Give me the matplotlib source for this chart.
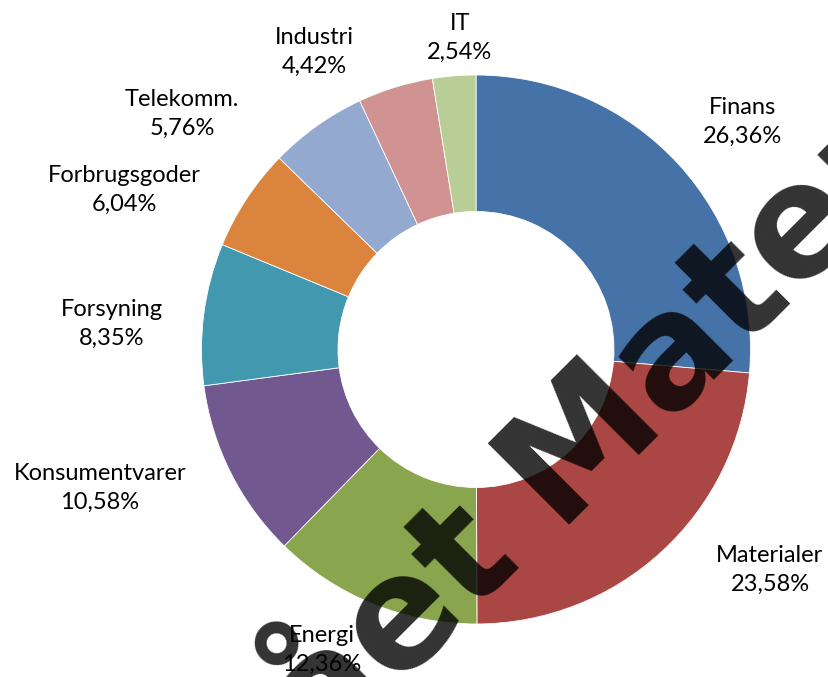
import matplotlib.pyplot as plt

# =========================
# data
# =========================
sectors = ["Finans", "Materialer", "Energi", "Konsumentvarer", "Forsyning",
           "Forbrugsgoder", "Telekomm.", "Industri", "IT"]
shares = [26.36, 23.58, 12.36, 10.58, 8.35, 6.04, 5.76, 4.42, 2.54]
colors = ["#4572A7", "#AA4643", "#89A54E", "#71588F", "#4198AF",
          "#DB843D", "#93A9CF", "#D19392", "#B9CD96"]

# label anchor points in pixels (x, y from top)
label_pos = [(743, 122), (770, 570), (322, 650), (100, 488), (112, 324),
             (124, 190), (182, 114), (314, 52), (460, 38)]

W, H = 829, 677
CX, CY = 476, 349.5
R_OUT, R_IN = 274.5, 138

plt.rcParams["font.family"] = ["Lato", "DejaVu Sans"]

fig = plt.figure(figsize=(W / 100, H / 100), dpi=100)
ax = fig.add_axes([0, 0, 1, 1])

ax.pie(shares, colors=colors, startangle=90, counterclock=False,
       radius=R_OUT, center=(CX, H - CY),
       wedgeprops=dict(width=R_OUT - R_IN, edgecolor="white", linewidth=0.6))
ax.set_xlim(0, W)
ax.set_ylim(0, H)
ax.set_aspect("equal")
ax.axis("off")

for name, val, (x, y) in zip(sectors, shares, label_pos):
    txt = f"{name}\n" + f"{val:.2f}".replace(".", ",") + "%"
    ax.text(x, H - y, txt, ha="center", va="center", fontsize=17,
            linespacing=1.45, color="black")

# watermark (two pieces of one line)
wm = dict(rotation=45, va="baseline", fontsize=112, fontweight="bold",
          family="DejaVu Sans", color="black", alpha=0.8, rotation_mode="anchor")
ax.text(522, H - 558, "ået", ha="right", **wm)
ax.text(555, H - 525, "Materiale", ha="left", **wm)

fig.savefig("out.png", dpi=100)
